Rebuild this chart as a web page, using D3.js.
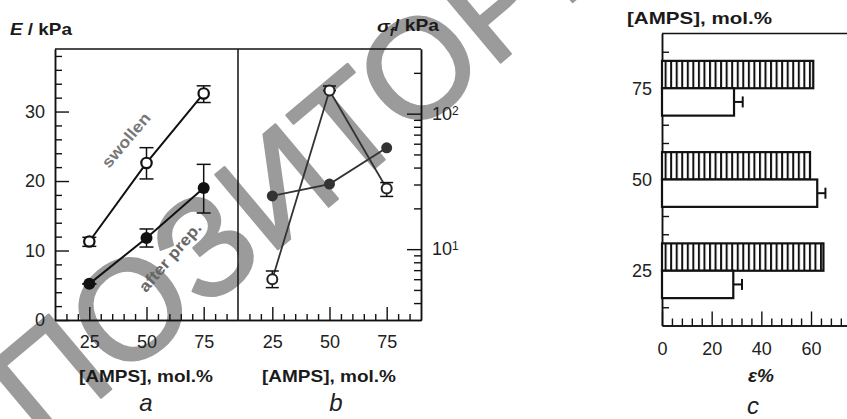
<!DOCTYPE html>
<html><head><meta charset="utf-8">
<script src="https://cdn.jsdelivr.net/npm/d3@7"></script>
<style>
body{margin:0;background:#fff}
svg{display:block}
text{font-family:"Liberation Sans",Arial,sans-serif}
</style>
</head><body>
<svg id="chart" width="847" height="419"></svg>
<script>
// ---------- data ----------
const amps = [25, 50, 75];
const eSwollen   = [11.3, 22.6, 32.6];
const eSwollenLo = [10.6, 20.3, 31.3];
const eSwollenHi = [11.9, 24.8, 33.7];
const ePrep   = [5.2, 11.8, 19.0];
const ePrepLo = [5.2, 10.5, 15.4];
const ePrepHi = [5.2, 13.1, 22.4];
const sigmaSwollen   = [6.0, 148, 28];
const sigmaSwollenLo = [5.2, 148, 24.5];
const sigmaSwollenHi = [6.9, 160, 31];
const sigmaPrep = [24.7, 30.2, 56];
const strainHatched = [65.0, 59.6, 60.9];
const strainOpen    = [28.7, 62.5, 29.0];
const strainOpenErr = [3.5, 3.3, 3.5];
const ampsTicks = [25, 50, 75];
const eTicks = [0, 10, 20, 30];
const sigmaMajor = [10, 100];
const strainTicks = [0, 20, 40, 60];

// ---------- setup ----------
const svg = d3.select("#chart");
const INK = "#111";

// watermark (behind everything)
svg.append("text")
  .attr("transform", "translate(42,447) rotate(-40)")
  .attr("font-size", 141).attr("fill", "#9b9b9b")
  .attr("stroke", "#9b9b9b").attr("stroke-width", 2.5).attr("stroke-linejoin", "round")
  .text("ПОЗИТОРИЙ");

// scales
const xa = d3.scaleLinear().domain([10, 90]).range([55, 238]);
const ya = d3.scaleLinear().domain([0, 39]).range([320, 49]);
const xb = d3.scaleLinear().domain([10, 90]).range([238, 421]);
const yb = d3.scaleLog().domain([3, 300]).range([320, 49]);
const xc = d3.scaleLinear().domain([0, 80]).range([662, 860.7]);
const yc = d3.scaleLinear().domain([10, 90]).range([325.5, 33.5]);

function style(g) {
  g.selectAll("path.domain").attr("stroke", INK).attr("stroke-width", 1.5);
  g.selectAll(".tick line").attr("stroke", INK).attr("stroke-width", 1.4);
  g.selectAll(".tick text").attr("font-size", 18).attr("fill", "#222")
    .attr("font-family", "Liberation Sans, Arial, sans-serif");
  return g;
}
function axisPair(gen, scale, minorVals, majorVals, majorLen, minorLen, pad, fmt) {
  const gm = svg.append("g");
  gm.call(gen(scale).tickValues(minorVals).tickSize(-minorLen).tickSizeOuter(0).tickFormat(""));
  style(gm);
  const gM = svg.append("g");
  gM.call(gen(scale).tickValues(majorVals).tickSize(-majorLen).tickSizeOuter(0).tickPadding(pad).tickFormat(fmt || d3.format("d")));
  style(gM);
  return [gm, gM];
}

// ---------- frames ----------
svg.append("line").attr("x1", xa.range()[0]).attr("x2", xb.range()[1]).attr("y1", ya(39)).attr("y2", ya(39))
  .attr("stroke", INK).attr("stroke-width", 1.5);
svg.append("line").attr("x1", xa(90)).attr("x2", xa(90)).attr("y1", ya(39)).attr("y2", ya(0))
  .attr("stroke", INK).attr("stroke-width", 1.5);
svg.append("line").attr("x1", xc(0)).attr("x2", xc(80)).attr("y1", yc(90)).attr("y2", yc(90))
  .attr("stroke", INK).attr("stroke-width", 1.5);

// ---------- panel a axes ----------
let a1 = axisPair(d3.axisBottom, xa, d3.range(15, 90, 5).filter(v => v % 25), ampsTicks, 13, 6, 15);
a1.forEach(g => g.attr("transform", `translate(0,${ya(0)})`));
let a2 = axisPair(d3.axisLeft, ya, d3.range(2, 39, 2).filter(v => v % 10), eTicks, 14, 7, 10);
a2.forEach(g => g.attr("transform", `translate(${xa(10)},0)`));

// ---------- panel b axes ----------
let b1 = axisPair(d3.axisBottom, xb, d3.range(15, 90, 5).filter(v => v % 25), ampsTicks, 13, 6, 15);
b1.forEach(g => g.attr("transform", `translate(0,${yb(3)})`));
const sigmaMinor = [4,5,6,7,8,9,20,30,40,50,60,70,80,90,200];
let b2 = axisPair(d3.axisRight, yb, sigmaMinor, sigmaMajor, 14, 7, 11, d => "");
b2.forEach(g => g.attr("transform", `translate(${xb(90)},0)`));
b2[1].selectAll(".tick text").each(function(d) {
  const t = d3.select(this);
  t.append("tspan").text("10");
  t.append("tspan").attr("dy", "-0.45em").attr("font-size", 12).text(Math.round(Math.log10(d)));
});

// ---------- panel c axes ----------
let c1 = axisPair(d3.axisBottom, xc, d3.range(4, 80, 4).filter(v => v % 20), strainTicks, 14, 7, 16.5);
c1.forEach(g => g.attr("transform", `translate(0,${yc(10)})`));
let c2 = axisPair(d3.axisLeft, yc, d3.range(15, 90, 5).filter(v => v % 25), ampsTicks, 14, 7, 10);
c2.forEach(g => g.attr("transform", `translate(${xc(0)},0)`));

// ---------- panel a marks ----------
const lineA = d3.line().x((d, i) => xa(amps[i])).y(d => ya(d));
svg.append("path").attr("d", lineA(eSwollen)).attr("fill", "none").attr("stroke", INK).attr("stroke-width", 2);
svg.append("path").attr("d", lineA(ePrep)).attr("fill", "none").attr("stroke", INK).attr("stroke-width", 2);

function errV(xs, ys, x, lo, hi, cap) {
  const g = svg.append("g").attr("stroke", INK).attr("stroke-width", 1.5);
  x.forEach((xv, i) => {
    const X = xs(xv);
    g.append("line").attr("x1", X).attr("x2", X).attr("y1", ys(lo[i])).attr("y2", ys(hi[i]));
    [lo[i], hi[i]].forEach(v => g.append("line").attr("x1", X - cap / 2).attr("x2", X + cap / 2)
      .attr("y1", ys(v)).attr("y2", ys(v)));
  });
}
errV(xa, ya, amps, eSwollenLo, eSwollenHi, 14);
errV(xa, ya, amps, ePrepLo, ePrepHi, 14);

svg.append("g").selectAll("circle").data(eSwollen).join("circle")
  .attr("cx", (d, i) => xa(amps[i])).attr("cy", d => ya(d)).attr("r", 5.2)
  .attr("fill", "#fff").attr("stroke", INK).attr("stroke-width", 2.2);
svg.append("g").selectAll("circle").data(ePrep).join("circle")
  .attr("cx", (d, i) => xa(amps[i])).attr("cy", d => ya(d)).attr("r", 6)
  .attr("fill", INK);

svg.append("text").attr("transform", "translate(126,140) rotate(-50)")
  .attr("text-anchor", "middle").attr("dy", "0.35em")
  .attr("font-size", 16).attr("font-weight", "bold").attr("fill", "#777")
  .attr("textLength", 66).attr("lengthAdjust", "spacingAndGlyphs").text("swollen");
svg.append("text").attr("transform", "translate(170,257) rotate(-49)")
  .attr("text-anchor", "middle").attr("dy", "0.35em")
  .attr("font-size", 16).attr("font-weight", "bold").attr("fill", "#666")
  .attr("textLength", 86).attr("lengthAdjust", "spacingAndGlyphs").text("after prep.");

// ---------- panel b marks ----------
const lineB = d3.line().x((d, i) => xb(amps[i])).y(d => yb(d));
svg.append("path").attr("d", lineB(sigmaSwollen)).attr("fill", "none").attr("stroke", "#333").attr("stroke-width", 1.8);
svg.append("path").attr("d", lineB(sigmaPrep)).attr("fill", "none").attr("stroke", "#333").attr("stroke-width", 1.8);
errV(xb, yb, amps, sigmaSwollenLo, sigmaSwollenHi, 13);
svg.append("g").selectAll("circle").data(sigmaSwollen).join("circle")
  .attr("cx", (d, i) => xb(amps[i])).attr("cy", d => yb(d)).attr("r", 5)
  .attr("fill", "#fff").attr("stroke", "#222").attr("stroke-width", 2);
svg.append("g").selectAll("circle").data(sigmaPrep).join("circle")
  .attr("cx", (d, i) => xb(amps[i])).attr("cy", d => yb(d)).attr("r", 5.5)
  .attr("fill", "#333");

// ---------- panel c bars ----------
const defs = svg.append("defs");
const pat = defs.append("pattern").attr("id", "vhatch").attr("patternUnits", "userSpaceOnUse")
  .attr("x", xc(0) + 2.6).attr("y", 0).attr("width", 5.55).attr("height", 10);
pat.append("rect").attr("width", 5.55).attr("height", 10).attr("fill", "#fff");
pat.append("rect").attr("x", 0).attr("width", 2).attr("height", 10).attr("fill", INK);

const half = 7.5;
svg.append("g").selectAll("rect").data(strainHatched).join("rect")
  .attr("x", xc(0)).attr("y", (d, i) => yc(amps[i] + half))
  .attr("width", d => xc(d) - xc(0)).attr("height", (d, i) => yc(amps[i]) - yc(amps[i] + half))
  .attr("fill", "url(#vhatch)").attr("stroke", INK).attr("stroke-width", 2.2);
svg.append("g").selectAll("rect").data(strainOpen).join("rect")
  .attr("x", xc(0)).attr("y", (d, i) => yc(amps[i]))
  .attr("width", d => xc(d) - xc(0)).attr("height", (d, i) => yc(amps[i] - half) - yc(amps[i]))
  .attr("fill", "#fff").attr("stroke", INK).attr("stroke-width", 2.2);
const eg = svg.append("g").attr("stroke", INK).attr("stroke-width", 2);
strainOpen.forEach((v, i) => {
  const yMid = (yc(amps[i]) + yc(amps[i] - half)) / 2;
  eg.append("line").attr("x1", xc(v)).attr("x2", xc(v + strainOpenErr[i])).attr("y1", yMid).attr("y2", yMid);
  eg.append("line").attr("x1", xc(v + strainOpenErr[i])).attr("x2", xc(v + strainOpenErr[i]))
    .attr("y1", yMid - 5.5).attr("y2", yMid + 5.5);
});

// ---------- titles ----------
function boldTitle(x, y, parts, len, size) {
  const t = svg.append("text").attr("x", x).attr("y", y).attr("font-size", size || 17)
    .attr("font-weight", "bold").attr("fill", "#1a1a1a");
  if (len) t.attr("textLength", len).attr("lengthAdjust", "spacingAndGlyphs");
  parts.forEach(p => {
    const s = t.append("tspan").text(p.t);
    if (p.i) s.attr("font-style", "italic");
    if (p.dy) s.attr("dy", p.dy);
    if (p.fs) s.attr("font-size", p.fs);
  });
  return t;
}
boldTitle(10, 35, [{t: "E", i: true}, {t: " / kPa"}], 62);
boldTitle(377, 32, [{t: "σ", i: true}, {t: "f", i: true, dy: "0.3em", fs: 12}, {t: "/ kPa", dy: "-0.25em"}], 62);
boldTitle(79, 382, [{t: "[AMPS], mol.%"}], 134);
boldTitle(262, 382, [{t: "[AMPS], mol.%"}], 134);
boldTitle(627, 24, [{t: "[AMPS], mol.%"}], 145);
boldTitle(748, 382, [{t: "ε%", i: true}], 26, 18);

const serif = "Liberation Serif, Times New Roman, serif";
[["a", 146, 411], ["b", 336, 411], ["c", 753, 414]].forEach(([s, x, y]) =>
  svg.append("text").attr("x", x).attr("y", y).attr("text-anchor", "middle")
    .attr("font-family", serif).attr("font-style", "italic").attr("font-size", 24)
    .attr("fill", "#222").text(s));
</script>
</body></html>
